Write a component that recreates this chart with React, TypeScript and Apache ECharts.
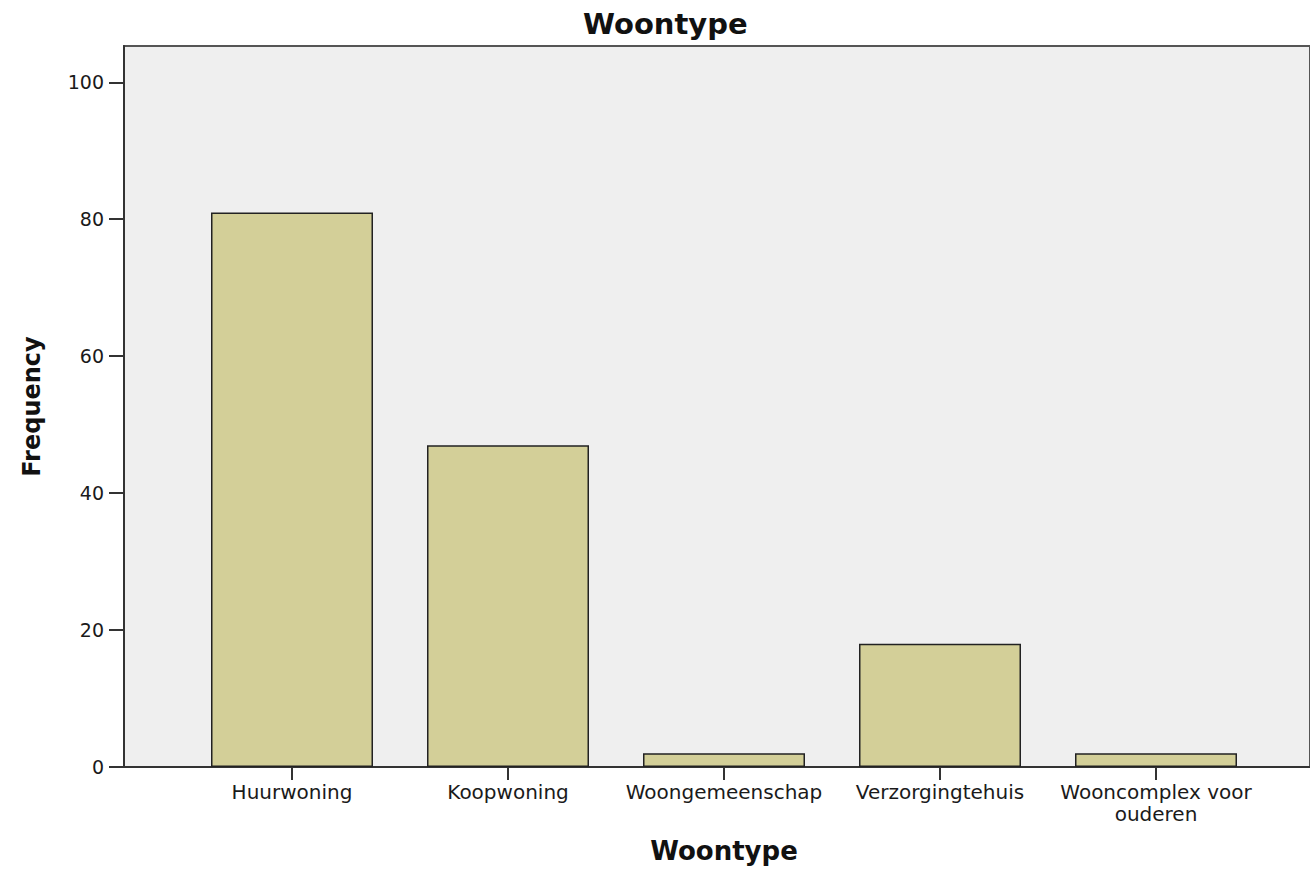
import React, { useEffect, useRef } from "react";
import * as echarts from "echarts";

const categories = ["Huurwoning", "Koopwoning", "Woongemeenschap", "Verzorgingtehuis", "Wooncomplex voor\nouderen"];
const frequencies = [81, 47, 2, 18, 2];
const yTicks = [0, 20, 40, 60, 80, 100];
const titleText = "Woontype";
const xName = "Woontype";
const yName = "Frequency";

const FONT = "DejaVu Sans";

export default function App() {
  const ref = useRef<HTMLDivElement>(null);
  useEffect(() => {
    if (!ref.current) return;
    const chart = echarts.init(ref.current, null, { renderer: "svg" });
    const yMax = 105.3;
    chart.setOption({
      animation: false,
      backgroundColor: "#ffffff",
      title: {
        text: titleText,
        left: 578,
        top: 4,
        textStyle: { fontFamily: FONT, fontWeight: "bold", fontSize: 29, color: "#111" },
      },
      grid: [
        {
          left: 124, top: 46, right: -20, bottom: 103,
          show: true, backgroundColor: "#efefef", borderColor: "#555", borderWidth: 2,
        },
        { left: 184, width: 1080, top: 46, bottom: 103 },
      ],
      xAxis: [
        {
          type: "value", gridIndex: 0, min: 0, max: 1,
          axisLine: { show: true, lineStyle: { color: "#333", width: 2 } },
          axisTick: { show: false }, axisLabel: { show: false }, splitLine: { show: false },
        },
        {
          type: "category", gridIndex: 1, data: categories,
          axisLine: { show: false },
          axisTick: { show: true, alignWithLabel: true, length: 13, lineStyle: { color: "#333", width: 2 } },
          axisLabel: { interval: 0, fontFamily: FONT, fontSize: 20, color: "#1a1a1a", margin: 14, lineHeight: 22 },
          name: xName, nameLocation: "middle", nameGap: 71,
          nameTextStyle: { fontFamily: FONT, fontWeight: "bold", fontSize: 26, color: "#111" },
        },
      ],
      yAxis: [
        {
          type: "value", gridIndex: 0, min: 0, max: yMax,
          axisLine: { show: true, lineStyle: { color: "#333", width: 2 } },
          axisTick: { show: true, length: 15, customValues: yTicks, lineStyle: { color: "#333", width: 2 } },
          axisLabel: { customValues: yTicks, fontFamily: FONT, fontSize: 19, color: "#1a1a1a", margin: 20 },
          splitLine: { show: false },
          name: yName, nameLocation: "middle", nameGap: 80, nameRotate: 90,
          nameTextStyle: { fontFamily: FONT, fontWeight: "bold", fontSize: 24, color: "#111" },
        },
        { type: "value", gridIndex: 1, min: 0, max: yMax, show: false },
      ],
      series: [
        {
          type: "bar", xAxisIndex: 1, yAxisIndex: 1, data: frequencies, barWidth: 162,
          itemStyle: { color: "#d3cf98", borderColor: "#222", borderWidth: 1.5 },
        },
      ],
    });
    return () => chart.dispose();
  }, []);
  return <div ref={ref} style={{ position: "fixed", left: 0, top: 0, width: 1310, height: 870 }} />;
}
